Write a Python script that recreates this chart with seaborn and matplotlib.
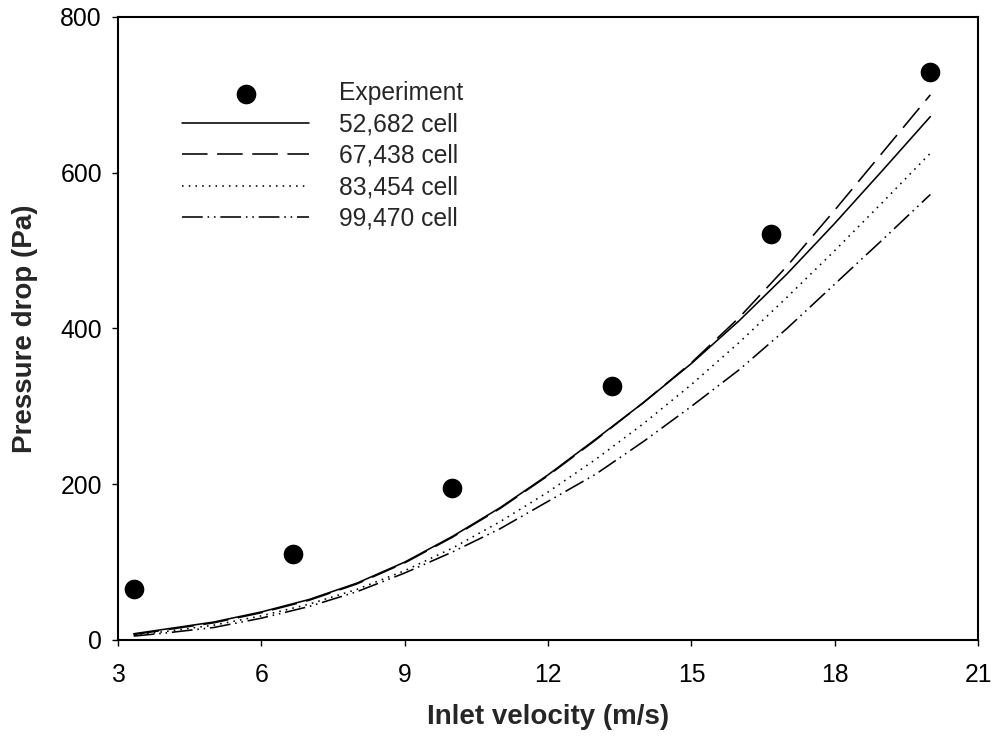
import seaborn as sns
import matplotlib.pyplot as plt
import pandas as pd

# experiment points
exp_x = [3.33, 6.67, 10.0, 13.33, 16.67, 20.0]
exp_y = [65, 110, 195, 326, 521, 729]

# simulated curves
sim_x = [3.33, 4, 5, 6, 7, 8, 9, 10, 11, 12, 13, 14, 15, 16, 17, 18, 19, 20]
cell_52682 = [8, 14, 23, 36, 52, 73, 100, 133, 170, 212, 258, 305, 355, 410, 470, 535, 603, 672]
cell_67438 = [7, 13, 22, 35, 51, 72, 99, 132, 169, 211, 257, 305, 356, 414, 480, 552, 626, 700]
cell_83454 = [6, 11, 19, 31, 46, 65, 89, 118, 152, 190, 232, 278, 328, 382, 440, 500, 562, 625]
cell_99470 = [5, 9, 16, 28, 43, 62, 86, 113, 143, 178, 213, 255, 300, 347, 400, 457, 514, 572]

labels = ["52,682 cell", "67,438 cell", "83,454 cell", "99,470 cell"]
styles = ["-", (0, (16, 6)), (0, (1, 3.2)), (0, (13, 3, 1, 3, 1, 3))]

sns.set_style("ticks")
plt.rcParams['font.family'] = ['Liberation Sans', 'DejaVu Sans']

fig = plt.figure(figsize=(9.93, 7.44), dpi=100)
ax = fig.add_axes([0.1188, 0.1398, 0.8662, 0.8374])

sns.scatterplot(x=exp_x, y=exp_y, ax=ax, color="black", s=200, edgecolor="black",
                linewidth=0, label="Experiment", zorder=3)
for vals, lab, ls in zip([cell_52682, cell_67438, cell_83454, cell_99470], labels, styles):
    sns.lineplot(x=sim_x, y=vals, ax=ax, color="black", linewidth=1.15,
                 linestyle=ls, label=lab, sort=False)

ax.set_xlim(3, 21)
ax.set_ylim(0, 800)
ax.set_xticks([3, 6, 9, 12, 15, 18, 21])
ax.set_yticks([0, 200, 400, 600, 800])
ax.tick_params(axis="both", direction="out", length=4.5, width=1, labelsize=17.8, colors="black")
ax.tick_params(axis="x", pad=12)
ax.tick_params(axis="y", pad=7)
for sp in ax.spines.values():
    sp.set_visible(True)
    sp.set_linewidth(1.5)
    sp.set_color("black")

ax.set_xlabel("Inlet velocity (m/s)", fontsize=20, fontweight="bold", labelpad=12)
ax.set_ylabel("Pressure drop (Pa)", fontsize=20, fontweight="bold", labelpad=16)

ax.legend(loc="upper left", bbox_to_anchor=(0.074, 0.897), frameon=False, fontsize=17.7,
          handlelength=5.2, handletextpad=1.2, labelspacing=0.3, borderpad=0,
          borderaxespad=0)

fig.savefig("out.png", dpi=100)
